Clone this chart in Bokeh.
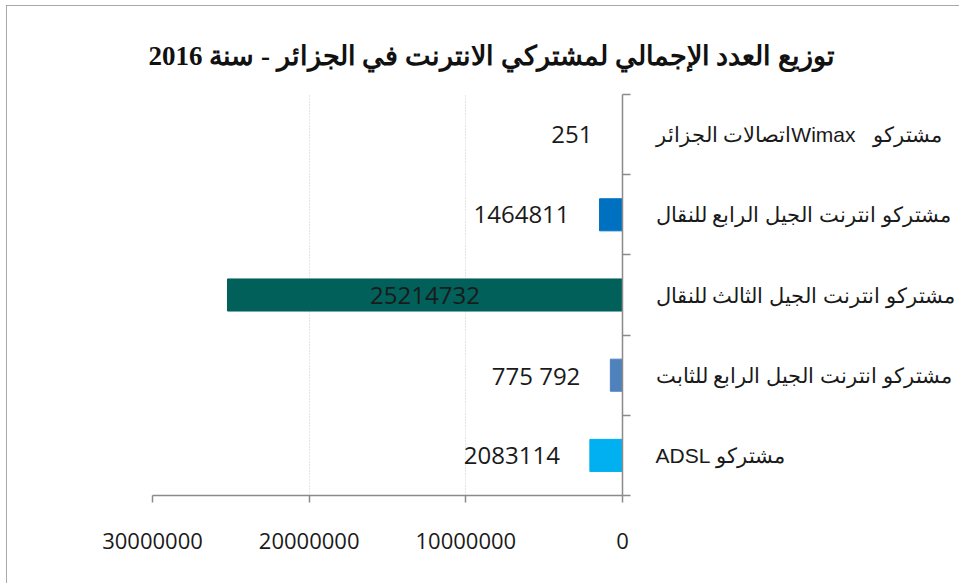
from bokeh.plotting import figure
from bokeh.models import (Range1d, FixedTicker, ColumnDataSource, Title,
                          BasicTickFormatter)
from bokeh.embed import file_html
from bokeh.resources import INLINE
from bokeh.core.properties import value

# ---- data (top to bottom as in the chart) ----
categories = [
    "مشتركو\u00A0\u00A0\u00A0Wimaxاتصالات الجزائر",
    "مشتركو انترنت الجيل الرابع للنقال",
    "مشتركو انترنت الجيل الثالث للنقال",
    "مشتركو انترنت الجيل الرابع للثابت",
    "مشتركو ADSL",
]
subscribers = [251, 1464811, 25214732, 775792, 2083114]
value_labels = ["251", "1464811", "25214732", "775 792", "2083114"]
bar_colors = ["#4F81BD", "#0070C0", "#02605A", "#4F81BD", "#00B0F0"]
x_ticks = [0, 10000000, 20000000, 30000000]
title_text = "توزيع  العدد الإجمالي لمشتركي الانترنت في الجزائر - سنة 2016"

RLE, PDF = "\u202B", "\u202C"

n = len(categories)
ypos = [n - 1 - i + 0.5 for i in range(n)]

src = ColumnDataSource(dict(y=ypos, v=subscribers, lab=value_labels, c=bar_colors))
big = [i for i, v in enumerate(subscribers) if v > 10000000]
small = [i for i, v in enumerate(subscribers) if v <= 10000000]
src_small = ColumnDataSource(dict(y=[ypos[i] for i in small],
                                  v=[subscribers[i] for i in small],
                                  lab=[value_labels[i] for i in small]))
src_big = ColumnDataSource(dict(y=[ypos[i] for i in big],
                                half=[subscribers[i] / 2 for i in big],
                                lab=[value_labels[i] for i in big]))

p = figure(width=953, height=578, output_backend="svg", toolbar_location=None,
           x_range=Range1d(30000000, 0), y_range=Range1d(0, n),
           x_axis_location="below", y_axis_location="right",
           min_border_left=146, min_border_right=337,
           min_border_top=89, min_border_bottom=88)
p.margin = (5, 0, 0, 6)
p.styles = {"outline": "2px solid #8c8c8c", "outline-offset": "-2px"}
p.outline_line_color = None
p.background_fill_color = "white"
p.border_fill_color = "white"

p.hbar(y="y", right="v", left=0, height=0.4, color="c", source=src)

p.text(x="v", y="y", text="lab", source=src_small, text_align="right",
       text_baseline="middle", x_offset=-30, text_font=value("Open Sans"),
       text_font_size="24px", text_color="#1a1a1a")
p.text(x="half", y="y", text="lab", source=src_big, text_align="center",
       text_baseline="middle", text_font=value("Open Sans"),
       text_font_size="24px", text_color="#1a1a1a")

# x axis
xa = p.xaxis[0]
xa.ticker = FixedTicker(ticks=x_ticks)
xa.formatter = BasicTickFormatter(use_scientific=False)
xa.axis_line_color = "#8a8a8a"
xa.axis_line_width = 1.5
xa.major_tick_line_color = "#8a8a8a"
xa.major_tick_line_width = 1.5
xa.major_tick_out = 7
xa.major_tick_in = 0
xa.minor_tick_line_color = None
xa.major_label_standoff = 30
xa.major_label_text_font = "Open Sans"
xa.major_label_text_font_size = "22px"
xa.major_label_text_color = "#1a1a1a"

# y axis (right) with boundary ticks
ya = p.yaxis[0]
ya.ticker = FixedTicker(ticks=ypos, minor_ticks=list(range(n + 1)))
ya.major_label_overrides = {ypos[i]: RLE + categories[i] + PDF for i in range(n)}
ya.axis_line_color = "#8a8a8a"
ya.axis_line_width = 1.5
ya.major_tick_out = 0
ya.major_tick_in = 0
ya.minor_tick_out = 8
ya.minor_tick_in = 0
ya.minor_tick_line_color = "#8a8a8a"
ya.minor_tick_line_width = 1.5
ya.major_label_standoff = 25
ya.major_label_text_font = "Liberation Sans"
ya.major_label_text_font_size = "21px"
ya.major_label_text_color = "#1a1a1a"

p.xgrid.ticker = FixedTicker(ticks=x_ticks)
p.xgrid.grid_line_color = "#c8c8c8"
p.xgrid.grid_line_dash = "1 2"
p.ygrid.grid_line_color = None

p.add_layout(Title(text=RLE + title_text + PDF, align="left", offset=-4,
                   standoff=47, text_font="Liberation Serif",
                   text_font_style="bold", text_font_size="27px",
                   text_color="#111111"), "above")

open("out.html", "w").write(file_html(p, INLINE))
